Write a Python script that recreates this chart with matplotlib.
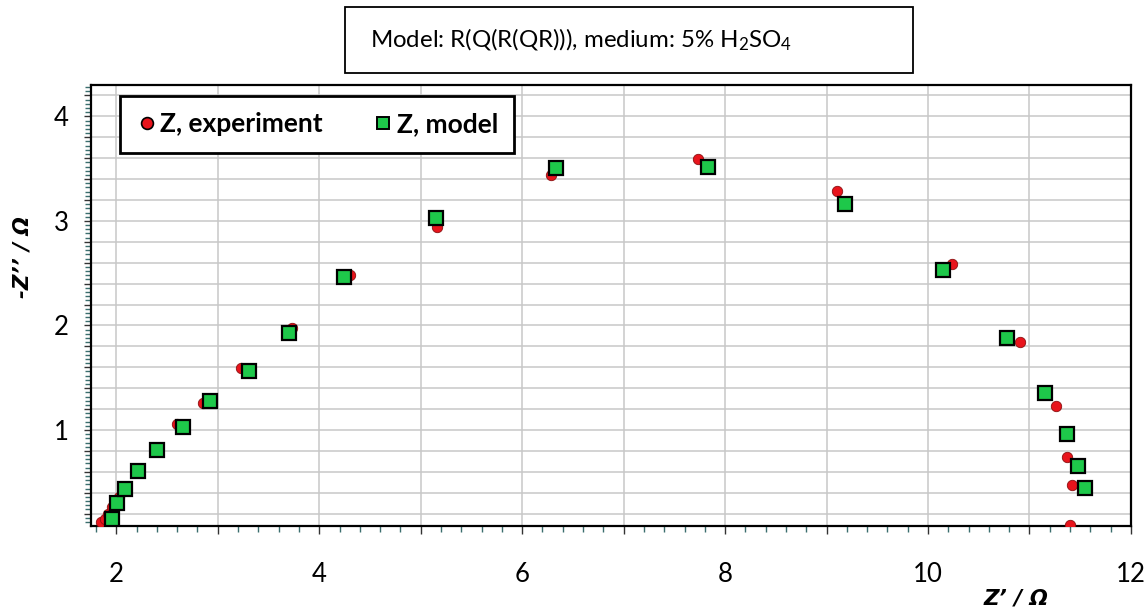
import numpy as np
import matplotlib.pyplot as plt
from matplotlib.patches import Rectangle
from matplotlib.ticker import MultipleLocator, FuncFormatter

plt.rcParams['font.family'] = ['Lato', 'DejaVu Sans']
plt.rcParams['mathtext.fontset'] = 'custom'
plt.rcParams['mathtext.rm'] = 'Lato'
plt.rcParams['mathtext.default'] = 'regular'

# experiment (Z', -Z'')
exp_re = [1.85, 1.89, 1.92, 1.96, 2.03, 2.60, 2.85, 3.23, 3.73, 4.30, 5.16,
          6.28, 7.73, 9.10, 10.24, 10.91, 11.26, 11.37, 11.42, 11.40]
exp_im = [0.12, 0.15, 0.20, 0.26, 0.36, 1.06, 1.26, 1.59, 1.98, 2.48, 2.94,
          3.44, 3.59, 3.29, 2.59, 1.84, 1.23, 0.74, 0.47, 0.09]

# model
mod_re = [1.96, 2.01, 2.085, 2.21, 2.40, 2.66, 2.92, 3.31, 3.70, 4.24, 5.15,
          6.33, 7.83, 9.18, 10.15, 10.78, 11.15, 11.37, 11.48, 11.55]
mod_im = [0.15, 0.30, 0.44, 0.61, 0.81, 1.03, 1.28, 1.56, 1.93, 2.46, 3.03,
          3.51, 3.52, 3.16, 2.53, 1.88, 1.35, 0.96, 0.66, 0.45]

fig = plt.figure(figsize=(11.44, 6.14), dpi=100)
ax = fig.add_axes([0.0795, 0.1438, 0.9091, 0.7178])

ax.plot(exp_re, exp_im, 'o', ls='none', ms=7.5, mfc='#e8141c', mec='#8a1010',
        mew=0.6, label='Z, experiment', zorder=3)
ax.plot(mod_re, mod_im, 's', ls='none', ms=10, mfc='#1ec84a', mec='black',
        mew=1.6, label='Z, model', zorder=4)

ax.set_xlim(1.75, 12)
ax.set_ylim(0.085, 4.3)

ax.xaxis.set_major_locator(MultipleLocator(1))
ax.xaxis.set_minor_locator(MultipleLocator(0.2))
ax.yaxis.set_major_locator(MultipleLocator(0.2))
ax.yaxis.set_minor_locator(MultipleLocator(0.04))

def xfmt(v, pos):
    r = round(v)
    return str(r) if abs(v - r) < 1e-6 and r % 2 == 0 else ''

def yfmt(v, pos):
    r = round(v)
    return str(r) if abs(v - r) < 1e-6 else ''

ax.xaxis.set_major_formatter(FuncFormatter(xfmt))
ax.yaxis.set_major_formatter(FuncFormatter(yfmt))

ax.grid(True, which='major', color='#c8c8c8', lw=1.1)
ax.set_axisbelow(True)
for s in ax.spines.values():
    s.set_linewidth(1.6)
    s.set_color('black')

ax.tick_params(axis='x', which='major', length=6, width=1, color='#333333',
               labelsize=18.5, pad=20)
ax.tick_params(axis='x', which='minor', length=4, width=1, color='#3b6e6e')
ax.tick_params(axis='y', which='major', length=5, width=1, color='#333333',
               labelsize=18.5, pad=11)
ax.tick_params(axis='y', which='minor', length=4, width=1, color='#3b6e6e')

leg = ax.legend(loc='upper left', bbox_to_anchor=(120 / 1144, 1 - 96 / 614),
                bbox_transform=fig.transFigure, borderaxespad=0, ncol=2,
                fancybox=False, framealpha=1, edgecolor='black',
                handletextpad=0.1, columnspacing=1.9, borderpad=0.62,
                handlelength=0.8, prop={'weight': 'bold', 'size': 19})
leg.get_frame().set_linewidth(2)
leg.legend_handles[0].set_markersize(8.5)
leg.legend_handles[0].set_markeredgecolor('black')
leg.legend_handles[0].set_markeredgewidth(1.2)
leg.legend_handles[1].set_markersize(8)
leg.legend_handles[1].set_markeredgewidth(1.4)

# title box
fig.patches.append(Rectangle((345 / 1144, 1 - 73 / 614), 568 / 1144, 66 / 614,
                             transform=fig.transFigure, fill=False,
                             edgecolor='black', lw=1.3))
fig.text(370 / 1144, 1 - 40 / 614, 'Model: R(Q(R(QR))), medium: 5% H$_2$SO$_4$',
         fontsize=17.3, va='center', ha='left')

lab = dict(family='DejaVu Sans', fontsize=15.5, fontweight='bold',
           style='italic', ha='center', va='center')
fig.text(1016 / 1144, 1 - 599 / 614, 'Z\u2019 / \u03a9', **lab)
fig.text(22 / 1144, 1 - 257 / 614, '-Z\u2019\u2019 / \u03a9', rotation=90, **lab)

fig.savefig('out.png', dpi=100)
